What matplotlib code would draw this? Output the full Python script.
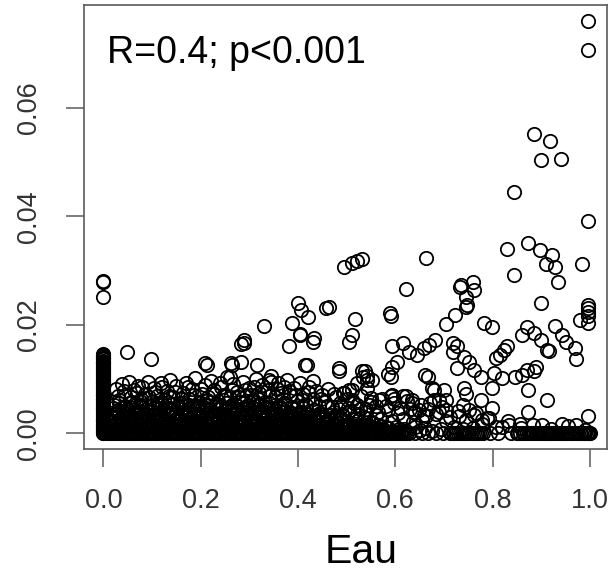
import matplotlib
matplotlib.use("Agg")
import matplotlib.pyplot as plt

# ---------------- data ----------------
# many points exactly at Eau = 0
col0_y = [0.0000, 0.0002, 0.0005, 0.0008, 0.0011, 0.0013, 0.0017, 0.0020, 0.0024,
          0.0027, 0.0030, 0.0034, 0.0037, 0.0041, 0.0044, 0.0047, 0.0051, 0.0054,
          0.0058, 0.0061, 0.0064, 0.0068, 0.0071, 0.0075, 0.0078, 0.0081, 0.0085,
          0.0088, 0.0092, 0.0095, 0.0098, 0.0102, 0.0105, 0.0109, 0.0112, 0.0115,
          0.0119, 0.0122, 0.0126, 0.0129, 0.0132, 0.0136, 0.0139, 0.0143, 0.0146,
          0.0251, 0.0278, 0.0281]
col0_y2 = [0.0001, 0.0004, 0.0007, 0.0010, 0.0015, 0.0018, 0.0022, 0.0025, 0.0029,
           0.0032, 0.0036, 0.0039, 0.0043, 0.0046, 0.0049, 0.0053, 0.0056, 0.0060,
           0.0063, 0.0066, 0.0070, 0.0073, 0.0077, 0.0080, 0.0083, 0.0087, 0.0090,
           0.0094, 0.0097, 0.0100, 0.0104, 0.0107, 0.0111, 0.0114, 0.0117, 0.0121,
           0.0124, 0.0128, 0.0131, 0.0134, 0.0138, 0.0141, 0.0144]

# many points with value exactly 0
zero_x = [0.006, 0.013, 0.019, 0.027, 0.034, 0.041, 0.047, 0.055, 0.062, 0.069, 0.076,
          0.083, 0.090, 0.098, 0.105, 0.112, 0.119, 0.126, 0.134, 0.141, 0.148, 0.155,
          0.163, 0.170, 0.177, 0.184, 0.192, 0.199, 0.206, 0.213, 0.221, 0.228, 0.235,
          0.242, 0.250, 0.257, 0.264, 0.271, 0.279, 0.286, 0.293, 0.300, 0.308, 0.315,
          0.322, 0.329, 0.337, 0.344, 0.351, 0.358, 0.366, 0.373, 0.380, 0.387, 0.395,
          0.402, 0.409, 0.416, 0.424, 0.431, 0.438, 0.445, 0.453, 0.460, 0.467, 0.474,
          0.482, 0.489, 0.496, 0.503, 0.511, 0.518, 0.525, 0.532, 0.540, 0.547, 0.554,
          0.561, 0.569, 0.576, 0.583, 0.590, 0.598, 0.605, 0.612, 0.620, 0.628, 0.641,
          0.655, 0.668, 0.684, 0.699, 0.712, 0.718, 0.724, 0.733, 0.741, 0.748, 0.757,
          0.765, 0.772, 0.781, 0.795, 0.811, 0.838, 0.851, 0.862, 0.871, 0.879, 0.886,
          0.893, 0.901, 0.908, 0.916, 0.924, 0.931, 0.938, 0.946, 0.953, 0.961, 0.968,
          0.975, 0.982, 0.988, 0.994, 0.999, 1.000]
zero_x2 = [0.009, 0.016, 0.023, 0.030, 0.037, 0.044, 0.051, 0.058, 0.065, 0.072, 0.080,
           0.087, 0.094, 0.101, 0.108, 0.116, 0.123, 0.130, 0.137, 0.144, 0.152, 0.159,
           0.166, 0.173, 0.181, 0.188, 0.195, 0.202, 0.210, 0.217, 0.224, 0.231, 0.239,
           0.246, 0.253, 0.260, 0.268, 0.275, 0.282, 0.289, 0.297, 0.304, 0.311, 0.318,
           0.326, 0.333, 0.340, 0.348, 0.355, 0.362, 0.369, 0.377, 0.384, 0.391, 0.398,
           0.406, 0.413, 0.420, 0.428, 0.435, 0.442, 0.449, 0.457, 0.464, 0.471, 0.478,
           0.486, 0.493, 0.500, 0.507, 0.515, 0.522, 0.529, 0.536, 0.544, 0.551, 0.558,
           0.565, 0.573, 0.580, 0.587, 0.594, 0.602, 0.609, 0.616, 0.624,
           0.714, 0.721, 0.728, 0.737, 0.744, 0.752, 0.761, 0.768, 0.776, 0.853, 0.857,
           0.866, 0.875, 0.883, 0.890, 0.897, 0.905, 0.912, 0.920, 0.927, 0.935, 0.942,
           0.950, 0.957, 0.964, 0.971, 0.979, 0.985, 0.991, 0.996]

# dense low cloud
low_pts = [
    (0.010, 0.0007), (0.019, 0.0005), (0.028, 0.0008), (0.037, 0.0006), (0.046, 0.0009),
    (0.055, 0.0005), (0.064, 0.0007), (0.073, 0.0008), (0.082, 0.0006), (0.091, 0.0009),
    (0.100, 0.0005), (0.109, 0.0007), (0.118, 0.0008), (0.127, 0.0006), (0.136, 0.0009),
    (0.145, 0.0005), (0.154, 0.0007), (0.163, 0.0008), (0.172, 0.0006), (0.181, 0.0009),
    (0.190, 0.0005), (0.199, 0.0007), (0.208, 0.0008), (0.217, 0.0006), (0.226, 0.0009),
    (0.235, 0.0005), (0.244, 0.0007), (0.253, 0.0008), (0.262, 0.0006), (0.271, 0.0009),
    (0.280, 0.0005), (0.289, 0.0007), (0.298, 0.0008), (0.307, 0.0006), (0.316, 0.0009),
    (0.325, 0.0005), (0.334, 0.0007), (0.343, 0.0008), (0.352, 0.0006), (0.361, 0.0009),
    (0.370, 0.0005), (0.379, 0.0007), (0.388, 0.0008), (0.397, 0.0006), (0.406, 0.0009),
    (0.415, 0.0005), (0.424, 0.0007), (0.433, 0.0008), (0.442, 0.0006), (0.451, 0.0009),
    (0.460, 0.0005), (0.469, 0.0007), (0.478, 0.0008), (0.487, 0.0006), (0.496, 0.0009),
    (0.505, 0.0005), (0.514, 0.0007), (0.523, 0.0008), (0.532, 0.0006), (0.541, 0.0009),
    (0.550, 0.0005), (0.559, 0.0007), (0.568, 0.0008), (0.577, 0.0006), (0.586, 0.0009),
    (0.595, 0.0005), (0.608, 0.0007), (0.622, 0.0004), (0.650, 0.0006), (0.675, 0.0005),
    (0.695, 0.0007),
    (0.012, 0.0016), (0.020, 0.0013), (0.028, 0.0018), (0.035, 0.0014), (0.043, 0.0017),
    (0.051, 0.0012), (0.058, 0.0016), (0.066, 0.0019), (0.074, 0.0013), (0.081, 0.0015),
    (0.089, 0.0018), (0.097, 0.0012), (0.104, 0.0016), (0.112, 0.0014), (0.120, 0.0019),
    (0.127, 0.0013), (0.135, 0.0017), (0.143, 0.0015), (0.150, 0.0012), (0.158, 0.0018),
    (0.166, 0.0014), (0.173, 0.0016), (0.181, 0.0013), (0.189, 0.0019), (0.196, 0.0015),
    (0.204, 0.0012), (0.212, 0.0017), (0.219, 0.0014), (0.227, 0.0018), (0.235, 0.0013),
    (0.242, 0.0016), (0.250, 0.0015), (0.258, 0.0019), (0.265, 0.0012), (0.273, 0.0017),
    (0.281, 0.0014), (0.288, 0.0016), (0.296, 0.0013), (0.304, 0.0018), (0.311, 0.0015),
    (0.319, 0.0012), (0.327, 0.0017), (0.334, 0.0014), (0.342, 0.0019), (0.350, 0.0016),
    (0.357, 0.0013), (0.365, 0.0015), (0.373, 0.0018), (0.380, 0.0012), (0.388, 0.0016),
    (0.396, 0.0014), (0.403, 0.0017), (0.411, 0.0013), (0.419, 0.0015), (0.426, 0.0018),
    (0.434, 0.0012), (0.442, 0.0016), (0.449, 0.0014), (0.457, 0.0017), (0.465, 0.0013),
    (0.472, 0.0015), (0.480, 0.0019), (0.488, 0.0012), (0.495, 0.0016), (0.503, 0.0014),
    (0.511, 0.0011), (0.518, 0.0017), (0.526, 0.0013), (0.534, 0.0010), (0.541, 0.0015),
    (0.549, 0.0012), (0.557, 0.0009), (0.570, 0.0014), (0.585, 0.0010), (0.601, 0.0012),
    (0.618, 0.0008), (0.640, 0.0011), (0.662, 0.0009),
    (0.012, 0.0023), (0.021, 0.0021), (0.030, 0.0025), (0.039, 0.0022), (0.048, 0.0024),
    (0.057, 0.0020), (0.066, 0.0023), (0.075, 0.0025), (0.084, 0.0021), (0.093, 0.0024),
    (0.102, 0.0022), (0.111, 0.0020), (0.120, 0.0025), (0.129, 0.0023), (0.138, 0.0021),
    (0.147, 0.0024), (0.156, 0.0022), (0.165, 0.0025), (0.174, 0.0020), (0.183, 0.0023),
    (0.192, 0.0021), (0.201, 0.0024), (0.210, 0.0022), (0.219, 0.0025), (0.228, 0.0020),
    (0.237, 0.0023), (0.246, 0.0021), (0.255, 0.0024), (0.264, 0.0022), (0.273, 0.0025),
    (0.282, 0.0020), (0.291, 0.0023), (0.300, 0.0021), (0.309, 0.0024), (0.318, 0.0022),
    (0.327, 0.0025), (0.336, 0.0020), (0.345, 0.0023), (0.354, 0.0021), (0.363, 0.0024),
    (0.372, 0.0022), (0.381, 0.0025), (0.390, 0.0020), (0.399, 0.0023), (0.408, 0.0021),
    (0.417, 0.0019), (0.426, 0.0022), (0.435, 0.0018), (0.444, 0.0021), (0.453, 0.0017),
    (0.462, 0.0020), (0.471, 0.0016), (0.480, 0.0019), (0.492, 0.0015), (0.505, 0.0018),
    (0.518, 0.0014), (0.533, 0.0017), (0.548, 0.0013), (0.565, 0.0016), (0.580, 0.0012),
    (0.016, 0.0031), (0.024, 0.0028), (0.033, 0.0034), (0.041, 0.0029), (0.050, 0.0032),
    (0.058, 0.0027), (0.067, 0.0033), (0.075, 0.0030), (0.084, 0.0028), (0.092, 0.0034),
    (0.101, 0.0031), (0.109, 0.0027), (0.118, 0.0032), (0.126, 0.0029), (0.135, 0.0034),
    (0.143, 0.0030), (0.152, 0.0028), (0.160, 0.0033), (0.169, 0.0031), (0.177, 0.0027),
    (0.186, 0.0032), (0.194, 0.0029), (0.203, 0.0034), (0.211, 0.0030), (0.220, 0.0028),
    (0.228, 0.0033), (0.237, 0.0031), (0.245, 0.0027), (0.254, 0.0032), (0.262, 0.0029),
    (0.271, 0.0034), (0.279, 0.0030), (0.288, 0.0028), (0.296, 0.0033), (0.305, 0.0031),
    (0.313, 0.0027), (0.322, 0.0032), (0.330, 0.0029), (0.339, 0.0034), (0.347, 0.0030),
    (0.356, 0.0028), (0.364, 0.0033), (0.373, 0.0031), (0.381, 0.0027), (0.390, 0.0032),
    (0.398, 0.0029), (0.407, 0.0026), (0.415, 0.0031), (0.424, 0.0028), (0.432, 0.0024),
    (0.441, 0.0030), (0.449, 0.0026), (0.458, 0.0023), (0.467, 0.0028), (0.476, 0.0025),
    (0.487, 0.0030), (0.498, 0.0022), (0.510, 0.0027), (0.523, 0.0024), (0.537, 0.0029),
    (0.552, 0.0021), (0.570, 0.0026), (0.593, 0.0022), (0.615, 0.0027), (0.637, 0.0020),
    (0.655, 0.0025),
    (0.015, 0.0038), (0.024, 0.0036), (0.033, 0.0040), (0.042, 0.0037), (0.051, 0.0039),
    (0.060, 0.0035), (0.069, 0.0038), (0.078, 0.0040), (0.087, 0.0036), (0.096, 0.0039),
    (0.105, 0.0037), (0.114, 0.0035), (0.123, 0.0040), (0.132, 0.0038), (0.141, 0.0036),
    (0.150, 0.0039), (0.159, 0.0037), (0.168, 0.0040), (0.177, 0.0035), (0.186, 0.0038),
    (0.195, 0.0036), (0.204, 0.0039), (0.213, 0.0037), (0.222, 0.0040), (0.231, 0.0035),
    (0.240, 0.0038), (0.249, 0.0036), (0.258, 0.0039), (0.267, 0.0037), (0.276, 0.0040),
    (0.285, 0.0035), (0.294, 0.0038), (0.303, 0.0036), (0.312, 0.0039), (0.321, 0.0037),
    (0.330, 0.0040), (0.339, 0.0035), (0.348, 0.0038), (0.357, 0.0036), (0.366, 0.0039),
    (0.375, 0.0034), (0.384, 0.0037), (0.393, 0.0033), (0.402, 0.0036), (0.411, 0.0032),
    (0.420, 0.0035), (0.430, 0.0031), (0.440, 0.0034), (0.452, 0.0030), (0.465, 0.0033),
    (0.478, 0.0029), (0.492, 0.0032),
    (0.020, 0.0046), (0.030, 0.0042), (0.040, 0.0049), (0.049, 0.0044), (0.059, 0.0047),
    (0.068, 0.0041), (0.078, 0.0048), (0.087, 0.0045), (0.097, 0.0043), (0.106, 0.0049),
    (0.116, 0.0046), (0.125, 0.0042), (0.135, 0.0047), (0.144, 0.0044), (0.154, 0.0049),
    (0.163, 0.0045), (0.173, 0.0043), (0.182, 0.0048), (0.192, 0.0046), (0.201, 0.0042),
    (0.211, 0.0047), (0.220, 0.0044), (0.230, 0.0049), (0.239, 0.0045), (0.249, 0.0043),
    (0.258, 0.0048), (0.268, 0.0046), (0.277, 0.0042), (0.287, 0.0047), (0.296, 0.0044),
    (0.306, 0.0049), (0.315, 0.0045), (0.325, 0.0043), (0.334, 0.0048), (0.344, 0.0046),
    (0.353, 0.0041), (0.363, 0.0046), (0.372, 0.0043), (0.382, 0.0038), (0.393, 0.0044),
    (0.405, 0.0040), (0.418, 0.0036), (0.430, 0.0042), (0.445, 0.0038), (0.460, 0.0034),
    (0.474, 0.0040), (0.490, 0.0036), (0.505, 0.0041), (0.522, 0.0035), (0.540, 0.0039),
    (0.560, 0.0033),
    (0.022, 0.0053), (0.033, 0.0056), (0.044, 0.0051), (0.055, 0.0055), (0.066, 0.0052),
    (0.077, 0.0057), (0.088, 0.0053), (0.099, 0.0050), (0.110, 0.0055), (0.121, 0.0052),
    (0.132, 0.0057), (0.143, 0.0054), (0.154, 0.0051), (0.165, 0.0056), (0.176, 0.0053),
    (0.187, 0.0050), (0.198, 0.0055), (0.209, 0.0052), (0.220, 0.0057), (0.231, 0.0054),
    (0.242, 0.0051), (0.253, 0.0056), (0.264, 0.0053), (0.275, 0.0050), (0.286, 0.0055),
    (0.297, 0.0052), (0.308, 0.0057), (0.319, 0.0054), (0.330, 0.0051), (0.341, 0.0055),
    (0.352, 0.0052), (0.363, 0.0049), (0.374, 0.0053), (0.385, 0.0048), (0.397, 0.0051),
    (0.410, 0.0046),
]

# scattered points in the upper part of the cloud
mid_pts = [
    (0.025, 0.0082), (0.032, 0.0061), (0.038, 0.0090), (0.045, 0.0070), (0.052, 0.0094),
    (0.058, 0.0057), (0.063, 0.0079), (0.071, 0.0088), (0.077, 0.0064), (0.085, 0.0073),
    (0.091, 0.0095), (0.099, 0.0058), (0.104, 0.0083), (0.111, 0.0069), (0.118, 0.0092),
    (0.124, 0.0061), (0.131, 0.0078), (0.137, 0.0099), (0.144, 0.0066), (0.150, 0.0087),
    (0.157, 0.0055), (0.163, 0.0075), (0.170, 0.0093), (0.176, 0.0063), (0.183, 0.0081),
    (0.189, 0.0101), (0.196, 0.0058), (0.202, 0.0072), (0.209, 0.0089), (0.215, 0.0066),
    (0.222, 0.0097), (0.228, 0.0079), (0.235, 0.0060), (0.241, 0.0086), (0.248, 0.0071),
    (0.254, 0.0104), (0.261, 0.0065), (0.267, 0.0091), (0.274, 0.0077), (0.280, 0.0057),
    (0.287, 0.0095), (0.293, 0.0069), (0.300, 0.0084), (0.306, 0.0061), (0.313, 0.0100),
    (0.319, 0.0074), (0.326, 0.0089), (0.332, 0.0058), (0.339, 0.0080), (0.345, 0.0106),
    (0.352, 0.0066), (0.358, 0.0093), (0.365, 0.0075), (0.371, 0.0055), (0.378, 0.0099),
    (0.384, 0.0070), (0.391, 0.0084), (0.397, 0.0060), (0.404, 0.0092), (0.410, 0.0072),
    (0.417, 0.0053), (0.423, 0.0086), (0.430, 0.0064), (0.436, 0.0078), (0.443, 0.0050),
    (0.449, 0.0070), (0.456, 0.0058), (0.462, 0.0082), (0.470, 0.0049), (0.478, 0.0066),
    (0.486, 0.0055), (0.494, 0.0075), (0.503, 0.0047), (0.512, 0.0062), (0.521, 0.0052),
    (0.530, 0.0068), (0.540, 0.0045), (0.550, 0.0058), (0.560, 0.0050), (0.572, 0.0063),
    (0.585, 0.0043), (0.598, 0.0055), (0.610, 0.0047), (0.625, 0.0060), (0.640, 0.0040),
    (0.652, 0.0052), (0.668, 0.0044), (0.683, 0.0036), (0.697, 0.0048), (0.712, 0.0030),
    (0.728, 0.0041), (0.745, 0.0025), (0.761, 0.0034), (0.779, 0.0018), (0.793, 0.0028),
    (0.807, 0.0012), (0.832, 0.0022), (0.858, 0.0010), (0.884, 0.0016), (0.921, 0.0008),
    (0.955, 0.0013), (0.990, 0.0006),
    (0.594, 0.0071), (0.622, 0.0068), (0.635, 0.0055), (0.649, 0.0043), (0.663, 0.0031),
    (0.690, 0.0061), (0.704, 0.0043), (0.731, 0.0031), (0.752, 0.0043), (0.765, 0.0037),
    (0.779, 0.0025), (0.820, 0.0012), (0.834, 0.0015), (0.857, 0.0018), (0.902, 0.0015),
    (0.943, 0.0018), (0.971, 0.0015), (0.671, 0.0055), (0.639, 0.0037), (0.615, 0.0068),
    (0.591, 0.0068), (0.550, 0.0065), (0.542, 0.0083), (0.494, 0.0074), (0.534, 0.0104),
    (0.522, 0.0092), (0.510, 0.0080), (0.538, 0.0114), (0.542, 0.0098), (0.591, 0.0104),
    (0.667, 0.0104), (0.679, 0.0080),
    (0.030, 0.0068), (0.042, 0.0078), (0.056, 0.0066), (0.068, 0.0075), (0.080, 0.0085),
    (0.094, 0.0067), (0.107, 0.0076), (0.121, 0.0086), (0.134, 0.0068), (0.147, 0.0077),
    (0.160, 0.0063), (0.174, 0.0085), (0.187, 0.0070), (0.200, 0.0082), (0.213, 0.0062),
    (0.226, 0.0074), (0.239, 0.0093), (0.252, 0.0068), (0.265, 0.0080), (0.278, 0.0066),
    (0.291, 0.0079), (0.304, 0.0071), (0.317, 0.0064), (0.330, 0.0077), (0.343, 0.0068),
    (0.356, 0.0082), (0.369, 0.0064), (0.382, 0.0078), (0.395, 0.0070), (0.408, 0.0062),
    (0.421, 0.0076), (0.434, 0.0056), (0.447, 0.0063), (0.460, 0.0050), (0.473, 0.0072),
    (0.488, 0.0048), (0.500, 0.0063), (0.515, 0.0055), (0.528, 0.0044), (0.545, 0.0052),
    (0.565, 0.0040), (0.580, 0.0050), (0.605, 0.0038), (0.630, 0.0045), (0.660, 0.0033),
    (0.690, 0.0040), (0.705, 0.0022), (0.720, 0.0012), (0.740, 0.0008), (0.760, 0.0010),
]

# sparse, individually visible points
high_pts = [
    (0.996, 0.0759), (0.996, 0.0707),
    (0.885, 0.0551), (0.919, 0.0539), (0.899, 0.0504), (0.941, 0.0506),
    (0.844, 0.0445), (0.997, 0.0392),
    (0.830, 0.0339), (0.873, 0.0350), (0.897, 0.0338), (0.923, 0.0329), (0.909, 0.0312),
    (0.929, 0.0307), (0.935, 0.0278), (0.983, 0.0312), (0.844, 0.0291), (0.899, 0.0241),
    (0.997, 0.0237), (0.997, 0.0230), (0.997, 0.0223), (0.997, 0.0217), (0.997, 0.0204),
    (0.495, 0.0306), (0.512, 0.0314), (0.522, 0.0317), (0.532, 0.0321), (0.664, 0.0323),
    (0.623, 0.0266), (0.734, 0.0269), (0.760, 0.0278), (0.762, 0.0264), (0.745, 0.0252),
    (0.746, 0.0233), (0.464, 0.0233),
    (0.331, 0.0198), (0.400, 0.0241), (0.406, 0.0227), (0.421, 0.0215), (0.387, 0.0203),
    (0.457, 0.0230), (0.404, 0.0183), (0.432, 0.0175), (0.288, 0.0172), (0.283, 0.0165),
    (0.517, 0.0211), (0.589, 0.0221), (0.591, 0.0217), (0.505, 0.0168), (0.485, 0.0120),
    (0.485, 0.0114),
    (0.704, 0.0201), (0.722, 0.0218), (0.748, 0.0236), (0.735, 0.0273), (0.782, 0.0203),
    (0.798, 0.0195), (0.871, 0.0195), (0.861, 0.0181), (0.885, 0.0184), (0.899, 0.0172),
    (0.929, 0.0198), (0.943, 0.0181), (0.950, 0.0169), (0.912, 0.0154), (0.970, 0.0157),
    (0.972, 0.0136), (0.980, 0.0209), (0.916, 0.0151),
    (0.830, 0.0160), (0.823, 0.0154), (0.816, 0.0144), (0.808, 0.0138),
    (0.871, 0.0117), (0.861, 0.0107), (0.847, 0.0104), (0.885, 0.0114), (0.889, 0.0122),
    (0.873, 0.0080), (0.912, 0.0061), (0.873, 0.0040), (0.997, 0.0031),
    (0.803, 0.0111), (0.820, 0.0101), (0.799, 0.0083), (0.776, 0.0104), (0.762, 0.0117),
    (0.752, 0.0132), (0.741, 0.0141), (0.727, 0.0160), (0.718, 0.0150), (0.719, 0.0166),
    (0.727, 0.0120), (0.741, 0.0083), (0.746, 0.0072), (0.777, 0.0061), (0.799, 0.0046),
    (0.739, 0.0053), (0.788, 0.0028),
    (0.662, 0.0107), (0.676, 0.0083), (0.700, 0.0080), (0.681, 0.0172), (0.669, 0.0163),
    (0.659, 0.0157), (0.645, 0.0144), (0.628, 0.0150), (0.615, 0.0166), (0.594, 0.0160),
    (0.604, 0.0132), (0.594, 0.0123), (0.586, 0.0109), (0.532, 0.0114), (0.542, 0.0105),
    (0.552, 0.0099), (0.567, 0.0061), (0.505, 0.0080), (0.492, 0.0074), (0.597, 0.0064),
    (0.635, 0.0061), (0.704, 0.0061), (0.680, 0.0061),
    (0.048, 0.0149), (0.098, 0.0136), (0.209, 0.0129), (0.262, 0.0129), (0.290, 0.0167),
    (0.316, 0.0126), (0.344, 0.0095), (0.382, 0.0160), (0.404, 0.0181), (0.430, 0.0168),
    (0.414, 0.0126), (0.372, 0.0086), (0.430, 0.0097), (0.283, 0.0132),
    (0.510, 0.0181), (0.418, 0.0126), (0.341, 0.0098), (0.309, 0.0086), (0.261, 0.0104),
    (0.213, 0.0126), (0.265, 0.0126),
]

x_ticks = [0.0, 0.2, 0.4, 0.6, 0.8, 1.0]
x_tick_labels = ["0.0", "0.2", "0.4", "0.6", "0.8", "1.0"]
y_ticks = [0.00, 0.02, 0.04, 0.06]
y_tick_labels = ["0.00", "0.02", "0.04", "0.06"]
x_label = "Eau"
annotation = "R=0.4; p<0.001"

# ---------------- build series ----------------
col_y = list(col0_y) + list(col0_y2)
zx = list(zero_x) + list(zero_x2)
xs = [0.0] * len(col_y) + zx
ys = col_y + [0.0] * len(zx)
for group in (low_pts, mid_pts, high_pts):
    gx, gy = zip(*group)
    xs += list(gx)
    ys += list(gy)

plt.rcParams['font.family'] = ['Liberation Sans', 'DejaVu Sans']

fig = plt.figure(figsize=(6.13, 5.72), dpi=100)
ax = fig.add_axes([0.137, 0.215, 0.853, 0.776])

ax.plot(xs, ys, linestyle='none', marker='o', markersize=9.6,
        markerfacecolor='none', markeredgecolor='black', markeredgewidth=1.3)

ax.set_xlim(-0.04, 1.035)
ax.set_ylim(-0.0029, 0.0789)
ax.set_xticks(x_ticks)
ax.set_xticklabels(x_tick_labels)
ax.set_yticks(y_ticks)
ax.set_yticklabels(y_tick_labels, rotation=90, va='center')

frame_col = '#5a5a5a'
for sp in ax.spines.values():
    sp.set_color(frame_col)
    sp.set_linewidth(1.2)
ax.tick_params(axis='both', direction='out', length=13, width=1.1,
               color=frame_col, labelcolor='#333333', labelsize=19.5)
ax.tick_params(axis='x', pad=15)
ax.tick_params(axis='y', pad=17)

ax.text(0.008, 0.0683, annotation, fontsize=27, color='black',
        ha='left', va='baseline')

fig.text(361 / 613, 1 - 552 / 572, x_label, fontsize=29.5, color='black',
         ha='center', va='center')

fig.savefig('out.png', dpi=100, facecolor='white')
